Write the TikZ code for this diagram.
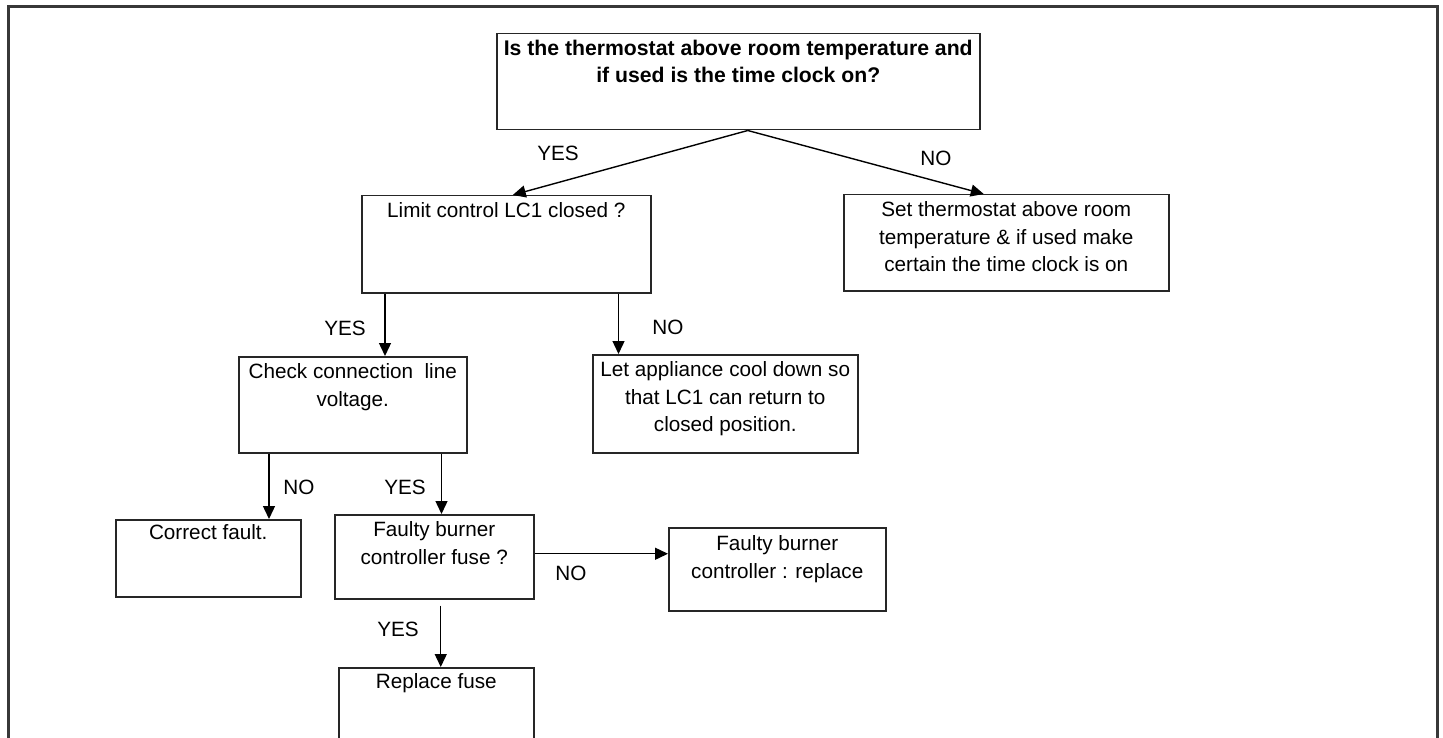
\documentclass[tikz,border=0pt]{standalone}
\usepackage{fontspec}
\setmainfont{Liberation Sans}
\usetikzlibrary{positioning,arrows.meta}
\tikzset{
  box/.style={draw=black!85, line width=1.5pt, anchor=north west, inner sep=0pt},
  txt/.style={align=center, inner sep=0pt, font=\fontsize{20.7}{27.5}\selectfont},
  ttl/.style={align=center, inner sep=0pt, font=\bfseries\fontsize{21.2}{27}\selectfont},
  lbl/.style={inner sep=0pt, font=\fontsize{20.7}{24}\selectfont},
  arr/.style={line width=1.4pt, -{Triangle[width=12pt,length=13pt]}},
}
\begin{document}
\begin{tikzpicture}[x=1pt,y=-1pt]
  \useasboundingbox (0,0) rectangle (1443,738);
  \fill[white] (0,0) rectangle (1443,738);
  \draw[line width=3pt, black!78] (8,7) rectangle (1437,760);
  % boxes
  \node[box, minimum width=483pt, minimum height=96pt] (q1) at (496,33) {};
  \node[box, minimum width=289pt, minimum height=97pt] (lc) at (361,195) {};
  \node[box, minimum width=325pt, minimum height=96pt] (set) at (843,194) {};
  \node[box, minimum width=228pt, minimum height=96pt] (chk) at (238,356) {};
  \node[box, minimum width=265pt, minimum height=98pt] (cool) at (592,354) {};
  \node[box, minimum width=185pt, minimum height=77pt] (fix) at (115,519) {};
  \node[box, minimum width=199pt, minimum height=84pt] (fuse) at (334,514) {};
  \node[box, minimum width=217pt, minimum height=83pt] (ctrl) at (668,527) {};
  \node[box, minimum width=195pt, minimum height=100pt] (repl) at (338,667) {};
  % texts
  \node[ttl, below=6.5pt of q1.north] (q1t)
    {Is the thermostat above room temperature and\\if used is the time clock on?};
  \node[txt, below=7.5pt of lc.north] (lct) {Limit control LC1 closed ?};
  \node[txt, below=7.5pt of set.north] (sett)
    {Set thermostat above room\\temperature \& if used make\\certain the time clock is on};
  \node[txt, below=7.5pt of chk.north] (chkt) {Check connection~ line\\voltage.};
  \node[txt, below=7.5pt of cool.north] (coolt)
    {Let appliance cool down so\\that LC1 can return to\\closed position.};
  \node[txt, below=5.5pt of fix.north] (fixt) {Correct fault.};
  \node[txt, below=7.5pt of fuse.north] (fuset) {Faulty burner\\controller fuse ?};
  \node[txt, below=8.5pt of ctrl.north] (ctrlt) {Faulty burner\\controller : replace};
  \node[txt, below=6.5pt of repl.north] (replt) {Replace fuse};
  % connectors
  \draw[arr] ([xshift=9.5]q1.south) -- ([xshift=6.5]lc.north);
  \draw[arr] ([xshift=9.5]q1.south) -- ([xshift=-22.5]set.north);
  \draw[arr] ([xshift=24]lc.south west) -- ([xshift=24]lc.south west |- chk.north);
  \draw[arr] ([xshift=-33]lc.south east) -- ([xshift=-33]lc.south east |- cool.north);
  \draw[arr] ([xshift=31]chk.south west) -- ([xshift=31]chk.south west |- fix.north);
  \draw[arr] ([xshift=-26]chk.south east) -- ([xshift=-26]chk.south east |- fuse.north);
  \draw[arr] ([yshift=3]fuse.east) -- ([yshift=3]fuse.east -| ctrl.west);
  \draw[arr] ([xshift=6.5,yshift=-6]fuse.south) -- ([xshift=6.5]fuse.south |- repl.north);
  % labels
  \node[lbl] (y1) at (558,153) {YES};
  \node[lbl] (n1) at (936,158) {NO};
  \node[lbl] (y2) at (345,328) {YES};
  \node[lbl] (n2) at (668,327) {NO};
  \node[lbl] (n3) at (299,487) {NO};
  \node[lbl] (y3) at (405,487) {YES};
  \node[lbl] (n4) at (571,573) {NO};
  \node[lbl] (y4) at (398,629) {YES};
\end{tikzpicture}
\end{document}
